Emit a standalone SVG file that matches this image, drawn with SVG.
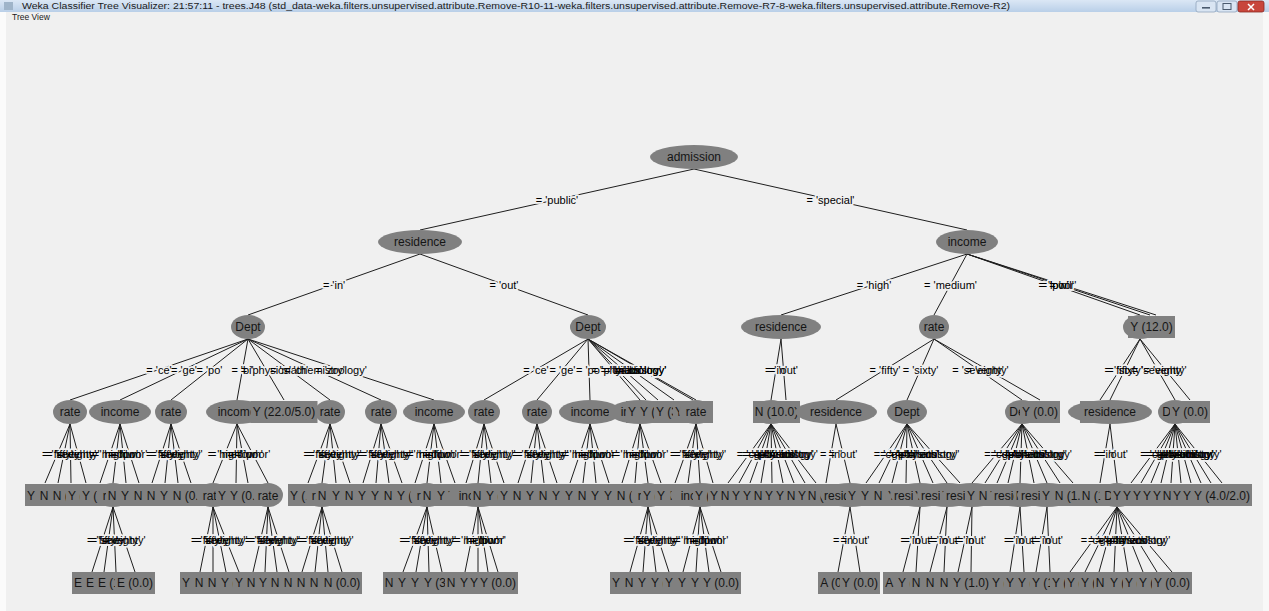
<svg xmlns="http://www.w3.org/2000/svg" xmlns:xlink="http://www.w3.org/1999/xlink" width="1269" height="611" viewBox="0 0 1269 611">
<style>
.nd{fill:#808080}
.tx{font-family:"Liberation Sans",Arial,sans-serif;font-size:12px;fill:#151515;text-anchor:middle}
.lb{font-family:"Liberation Sans",Arial,sans-serif;font-size:11px;text-anchor:middle}
.halo{fill:#f0f0f0;stroke:#f0f0f0;stroke-width:3.5;stroke-linejoin:round}
.ink{fill:#000;stroke:none}
.cn{stroke:#1e1e1e;stroke-width:1;fill:none}
.win{font-family:"Liberation Sans",Arial,sans-serif;fill:#1a1a1a}
</style>
<defs>
<linearGradient id="tb" x1="0" y1="0" x2="0" y2="1"><stop offset="0" stop-color="#dbe7f5"/><stop offset="1" stop-color="#b9cfe8"/></linearGradient>
<g id="lbls">
<text class="lb" x="557" y="203.5">= 'public'</text>
<text class="lb" x="830.5" y="203.5">= 'special'</text>
<text class="lb" x="334" y="288.5">= 'in'</text>
<text class="lb" x="504" y="288.5">= 'out'</text>
<text class="lb" x="874" y="288.5">= 'high'</text>
<text class="lb" x="950.5" y="288.5">= 'medium'</text>
<text class="lb" x="1053.5" y="288.5">= 'low'</text>
<text class="lb" x="1058.5" y="288.5">= 'poor'</text>
<text class="lb" x="1061.5" y="288.5">= 'nil'</text>
<text class="lb" x="159" y="373.5">= 'ce'</text>
<text class="lb" x="184" y="373.5">= 'ge'</text>
<text class="lb" x="209.5" y="373.5">= 'po'</text>
<text class="lb" x="242.5" y="373.5">= 'bi'</text>
<text class="lb" x="266" y="373.5">= 'physics'</text>
<text class="lb" x="289" y="373.5">= 'math'</text>
<text class="lb" x="314.5" y="373.5">= 'chemistry'</text>
<text class="lb" x="341" y="373.5">= 'zoology'</text>
<text class="lb" x="536" y="373.5">= 'ce'</text>
<text class="lb" x="562.5" y="373.5">= 'ge'</text>
<text class="lb" x="589" y="373.5">= 'po'</text>
<text class="lb" x="614" y="373.5">= 'bi'</text>
<text class="lb" x="617" y="373.5">= 'physics'</text>
<text class="lb" x="623" y="373.5">= 'math'</text>
<text class="lb" x="631" y="373.5">= 'chemistry'</text>
<text class="lb" x="640.5" y="373.5">= 'zoology'</text>
<text class="lb" x="642" y="373.5">= 'biology'</text>
<text class="lb" x="776" y="373.5">= 'in'</text>
<text class="lb" x="783.5" y="373.5">= 'out'</text>
<text class="lb" x="885" y="373.5">= 'fifty'</text>
<text class="lb" x="920.5" y="373.5">= 'sixty'</text>
<text class="lb" x="978" y="373.5">= 'seventy'</text>
<text class="lb" x="987" y="373.5">= 'eighty'</text>
<text class="lb" x="1120" y="373.5">= 'fifty'</text>
<text class="lb" x="1125" y="373.5">= 'sixty'</text>
<text class="lb" x="1157.5" y="373.5">= 'seventy'</text>
<text class="lb" x="1165" y="373.5">= 'eighty'</text>
<text class="lb" x="57.5" y="457.5">= 'fifty'</text>
<text class="lb" x="64" y="457.5">= 'sixty'</text>
<text class="lb" x="70.5" y="457.5">= 'seventy'</text>
<text class="lb" x="78" y="457.5">= 'eighty'</text>
<text class="lb" x="110" y="457.5">= 'high'</text>
<text class="lb" x="116.5" y="457.5">= 'medium'</text>
<text class="lb" x="123" y="457.5">= 'low'</text>
<text class="lb" x="129.5" y="457.5">= 'poor'</text>
<text class="lb" x="161.5" y="457.5">= 'fifty'</text>
<text class="lb" x="168" y="457.5">= 'sixty'</text>
<text class="lb" x="174.5" y="457.5">= 'seventy'</text>
<text class="lb" x="181" y="457.5">= 'eighty'</text>
<text class="lb" x="225" y="457.5">= 'high'</text>
<text class="lb" x="236.5" y="457.5">= 'medium'</text>
<text class="lb" x="242.5" y="457.5">= 'low'</text>
<text class="lb" x="252.5" y="457.5">= 'poor'</text>
<text class="lb" x="319" y="457.5">= 'fifty'</text>
<text class="lb" x="326" y="457.5">= 'sixty'</text>
<text class="lb" x="333" y="457.5">= 'seventy'</text>
<text class="lb" x="340" y="457.5">= 'eighty'</text>
<text class="lb" x="372" y="457.5">= 'fifty'</text>
<text class="lb" x="378.5" y="457.5">= 'sixty'</text>
<text class="lb" x="385" y="457.5">= 'seventy'</text>
<text class="lb" x="391.5" y="457.5">= 'eighty'</text>
<text class="lb" x="424.5" y="457.5">= 'high'</text>
<text class="lb" x="430.5" y="457.5">= 'medium'</text>
<text class="lb" x="437.5" y="457.5">= 'low'</text>
<text class="lb" x="444.5" y="457.5">= 'poor'</text>
<text class="lb" x="475" y="457.5">= 'fifty'</text>
<text class="lb" x="481" y="457.5">= 'sixty'</text>
<text class="lb" x="487.5" y="457.5">= 'seventy'</text>
<text class="lb" x="494" y="457.5">= 'eighty'</text>
<text class="lb" x="527.5" y="457.5">= 'fifty'</text>
<text class="lb" x="534" y="457.5">= 'sixty'</text>
<text class="lb" x="540.5" y="457.5">= 'seventy'</text>
<text class="lb" x="547" y="457.5">= 'eighty'</text>
<text class="lb" x="580" y="457.5">= 'high'</text>
<text class="lb" x="586.5" y="457.5">= 'medium'</text>
<text class="lb" x="593" y="457.5">= 'low'</text>
<text class="lb" x="599.5" y="457.5">= 'poor'</text>
<text class="lb" x="631" y="457.5">= 'high'</text>
<text class="lb" x="637.5" y="457.5">= 'medium'</text>
<text class="lb" x="644" y="457.5">= 'low'</text>
<text class="lb" x="650.5" y="457.5">= 'poor'</text>
<text class="lb" x="685.5" y="457.5">= 'fifty'</text>
<text class="lb" x="692" y="457.5">= 'sixty'</text>
<text class="lb" x="698" y="457.5">= 'seventy'</text>
<text class="lb" x="704.5" y="457.5">= 'eighty'</text>
<text class="lb" x="749.5" y="457.5">= 'ce'</text>
<text class="lb" x="755" y="457.5">= 'ge'</text>
<text class="lb" x="760.5" y="457.5">= 'po'</text>
<text class="lb" x="766" y="457.5">= 'bi'</text>
<text class="lb" x="771.5" y="457.5">= 'physics'</text>
<text class="lb" x="777" y="457.5">= 'math'</text>
<text class="lb" x="782.5" y="457.5">= 'chemistry'</text>
<text class="lb" x="788" y="457.5">= 'zoology'</text>
<text class="lb" x="793.5" y="457.5">= 'biology'</text>
<text class="lb" x="831" y="457.5">= 'in'</text>
<text class="lb" x="843" y="457.5">= 'out'</text>
<text class="lb" x="886.5" y="457.5">= 'ce'</text>
<text class="lb" x="893" y="457.5">= 'ge'</text>
<text class="lb" x="899.5" y="457.5">= 'po'</text>
<text class="lb" x="906.5" y="457.5">= 'bi'</text>
<text class="lb" x="913.5" y="457.5">= 'physics'</text>
<text class="lb" x="920" y="457.5">= 'math'</text>
<text class="lb" x="927" y="457.5">= 'chemistry'</text>
<text class="lb" x="933.5" y="457.5">= 'zoology'</text>
<text class="lb" x="997" y="457.5">= 'ce'</text>
<text class="lb" x="1003.5" y="457.5">= 'ge'</text>
<text class="lb" x="1009.5" y="457.5">= 'po'</text>
<text class="lb" x="1015" y="457.5">= 'bi'</text>
<text class="lb" x="1021" y="457.5">= 'physics'</text>
<text class="lb" x="1028" y="457.5">= 'math'</text>
<text class="lb" x="1034.5" y="457.5">= 'chemistry'</text>
<text class="lb" x="1041" y="457.5">= 'zoology'</text>
<text class="lb" x="1047.5" y="457.5">= 'biology'</text>
<text class="lb" x="1105" y="457.5">= 'in'</text>
<text class="lb" x="1113.5" y="457.5">= 'out'</text>
<text class="lb" x="1153" y="457.5">= 'ce'</text>
<text class="lb" x="1158" y="457.5">= 'ge'</text>
<text class="lb" x="1163" y="457.5">= 'po'</text>
<text class="lb" x="1168" y="457.5">= 'bi'</text>
<text class="lb" x="1173" y="457.5">= 'physics'</text>
<text class="lb" x="1178" y="457.5">= 'math'</text>
<text class="lb" x="1183" y="457.5">= 'chemistry'</text>
<text class="lb" x="1188" y="457.5">= 'zoology'</text>
<text class="lb" x="1193" y="457.5">= 'biology'</text>
<text class="lb" x="1198.5" y="457.5">= 'history'</text>
<text class="lb" x="102.5" y="543.5">= 'fifty'</text>
<text class="lb" x="108.5" y="543.5">= 'sixty'</text>
<text class="lb" x="114.5" y="543.5">= 'seventy'</text>
<text class="lb" x="124" y="543.5">= 'eighty'</text>
<text class="lb" x="206.5" y="543.5">= 'fifty'</text>
<text class="lb" x="213" y="543.5">= 'sixty'</text>
<text class="lb" x="219.5" y="543.5">= 'seventy'</text>
<text class="lb" x="226" y="543.5">= 'eighty'</text>
<text class="lb" x="260.5" y="543.5">= 'fifty'</text>
<text class="lb" x="266.5" y="543.5">= 'sixty'</text>
<text class="lb" x="272.5" y="543.5">= 'seventy'</text>
<text class="lb" x="278.5" y="543.5">= 'eighty'</text>
<text class="lb" x="312" y="543.5">= 'fifty'</text>
<text class="lb" x="318.5" y="543.5">= 'sixty'</text>
<text class="lb" x="325" y="543.5">= 'seventy'</text>
<text class="lb" x="332" y="543.5">= 'eighty'</text>
<text class="lb" x="415" y="543.5">= 'fifty'</text>
<text class="lb" x="421.5" y="543.5">= 'sixty'</text>
<text class="lb" x="428" y="543.5">= 'seventy'</text>
<text class="lb" x="434.5" y="543.5">= 'eighty'</text>
<text class="lb" x="471.5" y="543.5">= 'high'</text>
<text class="lb" x="478" y="543.5">= 'medium'</text>
<text class="lb" x="483" y="543.5">= 'low'</text>
<text class="lb" x="488" y="543.5">= 'poor'</text>
<text class="lb" x="639" y="543.5">= 'fifty'</text>
<text class="lb" x="645.5" y="543.5">= 'sixty'</text>
<text class="lb" x="652" y="543.5">= 'seventy'</text>
<text class="lb" x="658.5" y="543.5">= 'eighty'</text>
<text class="lb" x="691.5" y="543.5">= 'high'</text>
<text class="lb" x="698" y="543.5">= 'medium'</text>
<text class="lb" x="704.5" y="543.5">= 'low'</text>
<text class="lb" x="710.5" y="543.5">= 'poor'</text>
<text class="lb" x="844" y="543.5">= 'in'</text>
<text class="lb" x="855" y="543.5">= 'out'</text>
<text class="lb" x="911.5" y="543.5">= 'in'</text>
<text class="lb" x="918" y="543.5">= 'out'</text>
<text class="lb" x="938.5" y="543.5">= 'in'</text>
<text class="lb" x="945.5" y="543.5">= 'out'</text>
<text class="lb" x="965" y="543.5">= 'in'</text>
<text class="lb" x="971.5" y="543.5">= 'out'</text>
<text class="lb" x="1015" y="543.5">= 'in'</text>
<text class="lb" x="1022" y="543.5">= 'out'</text>
<text class="lb" x="1041.5" y="543.5">= 'in'</text>
<text class="lb" x="1048.5" y="543.5">= 'out'</text>
<text class="lb" x="1093.5" y="543.5">= 'ce'</text>
<text class="lb" x="1101" y="543.5">= 'ge'</text>
<text class="lb" x="1108" y="543.5">= 'po'</text>
<text class="lb" x="1115.5" y="543.5">= 'bi'</text>
<text class="lb" x="1122.5" y="543.5">= 'physics'</text>
<text class="lb" x="1130" y="543.5">= 'math'</text>
<text class="lb" x="1137" y="543.5">= 'chemistry'</text>
<text class="lb" x="1144.5" y="543.5">= 'zoology'</text>
</g>
</defs>

<rect width="1269" height="611" fill="#f0f0f0"/>
<rect x="0" y="12" width="6" height="599" fill="#fbfbfb"/>
<rect x="1263" y="12" width="6" height="599" fill="#f8f8f8"/>
<g id="window">
<rect x="0" y="0" width="1269" height="12" fill="url(#tb)"/>
<rect x="4" y="2" width="9" height="8" fill="#9fb4c9"/>
<text class="win" x="22" y="9" font-size="8.5" textLength="988" lengthAdjust="spacingAndGlyphs">Weka Classifier Tree Visualizer: 21:57:11 - trees.J48 (std_data-weka.filters.unsupervised.attribute.Remove-R10-11-weka.filters.unsupervised.attribute.Remove-R7-8-weka.filters.unsupervised.attribute.Remove-R2)</text>
<rect x="1196" y="1" width="20" height="11" rx="2" fill="#d9e5f3" stroke="#8fa3bb" stroke-width="0.8"/>
<rect x="1202" y="7" width="8" height="1.6" fill="#4a5a6e"/>
<rect x="1217" y="1" width="20" height="11" rx="2" fill="#d9e5f3" stroke="#8fa3bb" stroke-width="0.8"/>
<rect x="1223" y="3.5" width="8" height="6" fill="none" stroke="#4a5a6e" stroke-width="1"/>
<rect x="1238" y="1" width="26" height="11" rx="2" fill="#c8463c" stroke="#8a2a22" stroke-width="0.8"/>
<path d="M1248 4L1254 10M1254 4L1248 10" stroke="#fff" stroke-width="1.5"/>
<text class="win" x="12" y="19.5" font-size="8.5">Tree View</text>
</g>

<g id="connectors" class="cn">
<path d="M694 169L420 230M694 169L967 230M420 254L248 315M420 254L588 315M967 254L781 315M967 254L934 315M967 254L1140 315M967 254L1150 315M967 254L1156 315"/>
<path d="M248 339L70 400M248 339L120 400M248 339L171 400M248 339L237 400M248 339L284 400M248 339L330 400M248 339L381 400M248 339L434 400M588 339L484 400M588 339L537 400M588 339L590 400M588 339L640 400M588 339L646 400M588 339L658 400M588 339L674 400M588 339L693 400M588 339L696 400M781 339L771 400M781 339L786 400M934 339L836 400M934 339L907 400M934 339L1022 400M934 339L1040 400M1140 339L1100 400M1140 339L1110 400M1140 339L1175 400M1140 339L1190 400"/>
<path d="M70 424L45 483M70 424L58 483M70 424L71 483M70 424L86 483M120 424L100 483M120 424L113 483M120 424L126 483M120 424L139 483M171 424L152 483M171 424L165 483M171 424L178 483M171 424L191 483M237 424L213 483M237 424L236 483M237 424L248 483M237 424L268 483M330 424L308 483M330 424L322 483M330 424L336 483M330 424L350 483M381 424L363 483M381 424L376 483M381 424L389 483M381 424L402 483M434 424L415 483M434 424L427 483M434 424L441 483M434 424L455 483M484 424L466 483M484 424L478 483M484 424L491 483M484 424L504 483M537 424L518 483M537 424L531 483M537 424L544 483M537 424L557 483M590 424L570 483M590 424L583 483M590 424L596 483M590 424L609 483M640 424L622 483M640 424L635 483M640 424L648 483M640 424L661 483M696 424L675 483M696 424L688 483M696 424L700 483M696 424L713 483"/>
<path d="M771 424L728 483M771 424L739 483M771 424L750 483M771 424L761 483M771 424L772 483M771 424L783 483M771 424L794 483M771 424L805 483M771 424L816 483M836 424L826 483M836 424L850 483M907 424L866 483M907 424L879 483M907 424L892 483M907 424L906 483M907 424L920 483M907 424L933 483M907 424L947 483M907 424L960 483M1022 424L972 483M1022 424L985 483M1022 424L997 483M1022 424L1008 483M1022 424L1020 483M1022 424L1034 483M1022 424L1047 483M1022 424L1060 483M1022 424L1073 483M1110 424L1100 483M1110 424L1117 483M1175 424L1131 483M1175 424L1141 483M1175 424L1151 483M1175 424L1161 483M1175 424L1171 483M1175 424L1181 483M1175 424L1191 483M1175 424L1201 483M1175 424L1211 483M1175 424L1222 483"/>
<path d="M113 507L92 572M113 507L104 572M113 507L116 572M113 507L135 572M213 507L200 572M213 507L213 572M213 507L226 572M213 507L239 572M268 507L253 572M268 507L265 572M268 507L277 572M268 507L289 572M322 507L302 572M322 507L315 572M322 507L328 572M322 507L342 572M427 507L403 572M427 507L416 572M427 507L429 572M427 507L442 572M478 507L465 572M478 507L478 572M478 507L488 572M478 507L498 572M648 507L630 572M648 507L643 572M648 507L656 572M648 507L669 572M700 507L683 572M700 507L696 572M700 507L709 572M700 507L721 572M850 507L838 572M850 507L860 572M920 507L903 572M920 507L916 572M947 507L930 572M947 507L944 572M972 507L958 572M972 507L971 572M1020 507L1010 572M1020 507L1024 572M1047 507L1036 572M1047 507L1050 572M1117 507L1070 572M1117 507L1085 572M1117 507L1099 572M1117 507L1114 572M1117 507L1128 572M1117 507L1143 572M1117 507L1157 572M1117 507L1172 572"/>
</g>

<g id="labels">
<use xlink:href="#lbls" href="#lbls" class="halo"/>
<use xlink:href="#lbls" href="#lbls" class="ink"/>
</g>

<g id="nodes">
<g id="admission"><ellipse class="nd" cx="694" cy="157" rx="44" ry="12"/><text class="tx" x="694" y="161">admission</text></g>
<g id="residence1"><ellipse class="nd" cx="420" cy="242" rx="42" ry="12"/><text class="tx" x="420" y="246">residence</text></g>
<g id="income1"><ellipse class="nd" cx="967" cy="242" rx="31" ry="12"/><text class="tx" x="967" y="246">income</text></g>

<g id="deptL"><ellipse class="nd" cx="248" cy="327" rx="17" ry="12"/><text class="tx" x="248" y="331">Dept</text></g>
<g id="deptR"><ellipse class="nd" cx="588" cy="327" rx="18" ry="12"/><text class="tx" x="588" y="331">Dept</text></g>
<g id="residence2"><ellipse class="nd" cx="781" cy="327" rx="40" ry="12"/><text class="tx" x="781" y="331">residence</text></g>
<g id="rate2"><ellipse class="nd" cx="934" cy="327" rx="15" ry="12"/><text class="tx" x="934" y="331">rate</text></g>
<g id="rate2h"><ellipse class="nd" cx="1140" cy="327" rx="17" ry="12"/><text class="tx" x="1140" y="331">rate</text></g>
<g id="leaf2h"><rect class="nd" x="1135" y="316" width="40" height="22"/><text class="tx" x="1155" y="331">N (0.0)</text></g>
<g id="leaf2"><rect class="nd" x="1128" y="316" width="47" height="22"/><text class="tx" x="1151.5" y="331">Y (12.0)</text></g>

<g id="n3_70"><ellipse class="nd" cx="70" cy="412" rx="17" ry="12"/><text class="tx" x="70" y="416">rate</text></g>
<g id="n3_120"><ellipse class="nd" cx="120" cy="412" rx="31" ry="12"/><text class="tx" x="120" y="416">income</text></g>
<g id="n3_171"><ellipse class="nd" cx="171" cy="412" rx="16" ry="12"/><text class="tx" x="171" y="416">rate</text></g>
<g id="n3_237"><ellipse class="nd" cx="237" cy="412" rx="31" ry="12"/><text class="tx" x="237" y="416">income</text></g>
<g id="n3_284"><rect class="nd" x="250.5" y="401" width="67" height="22"/><text class="tx" x="284" y="416">Y (22.0/5.0)</text></g>
<g id="n3_330"><ellipse class="nd" cx="330" cy="412" rx="15" ry="12"/><text class="tx" x="330" y="416">rate</text></g>
<g id="n3_381"><ellipse class="nd" cx="381" cy="412" rx="16" ry="12"/><text class="tx" x="381" y="416">rate</text></g>
<g id="n3_434"><ellipse class="nd" cx="434" cy="412" rx="31" ry="12"/><text class="tx" x="434" y="416">income</text></g>
<g id="n3_484"><ellipse class="nd" cx="484" cy="412" rx="16" ry="12"/><text class="tx" x="484" y="416">rate</text></g>
<g id="n3_537"><ellipse class="nd" cx="537" cy="412" rx="15" ry="12"/><text class="tx" x="537" y="416">rate</text></g>
<g id="n3_590"><ellipse class="nd" cx="590" cy="412" rx="31" ry="12"/><text class="tx" x="590" y="416">income</text></g>
<g id="n3_640"><ellipse class="nd" cx="640" cy="412" rx="31" ry="12"/><text class="tx" x="640" y="416">income</text></g>
<g id="n3_646"><rect class="nd" x="626" y="401" width="40" height="22"/><text class="tx" x="646" y="416">Y (2.0)</text></g>
<g id="n3_658"><rect class="nd" x="638" y="401" width="40" height="22"/><text class="tx" x="658" y="416">Y (1.0)</text></g>
<g id="n3_674"><rect class="nd" x="654" y="401" width="40" height="22"/><text class="tx" x="674" y="416">Y (3.0)</text></g>
<g id="n3_693"><rect class="nd" x="673" y="401" width="40" height="22"/><text class="tx" x="693" y="416">Y (0.0)</text></g>
<g id="n3_696"><ellipse class="nd" cx="696" cy="412" rx="17" ry="12"/><text class="tx" x="696" y="416">rate</text></g>
<g id="n3_771"><ellipse class="nd" cx="771" cy="412" rx="18" ry="12"/><text class="tx" x="771" y="416">Dept</text></g>
<g id="n3_776"><rect class="nd" x="753" y="401" width="47" height="22"/><text class="tx" x="776.5" y="416">N (10.0)</text></g>
<g id="n3_836"><ellipse class="nd" cx="836" cy="412" rx="41" ry="12"/><text class="tx" x="836" y="416">residence</text></g>
<g id="n3_907"><ellipse class="nd" cx="907" cy="412" rx="20" ry="12"/><text class="tx" x="907" y="416">Dept</text></g>
<g id="n3_1022"><ellipse class="nd" cx="1022" cy="412" rx="17" ry="12"/><text class="tx" x="1022" y="416">Dept</text></g>
<g id="n3_1040"><rect class="nd" x="1020" y="401" width="40" height="22"/><text class="tx" x="1040" y="416">Y (0.0)</text></g>
<g id="n3_1100"><rect class="nd" x="1080" y="401" width="40" height="22"/><text class="tx" x="1100" y="416">N (1.0)</text></g>
<g id="n3_1110"><ellipse class="nd" cx="1110" cy="412" rx="42" ry="12"/><text class="tx" x="1110" y="416">residence</text></g>
<g id="n3_1175"><ellipse class="nd" cx="1175" cy="412" rx="17" ry="12"/><text class="tx" x="1175" y="416">Dept</text></g>
<g id="n3_1190"><rect class="nd" x="1170" y="401" width="40" height="22"/><text class="tx" x="1190" y="416">Y (0.0)</text></g>

<g id="n4_45"><rect class="nd" x="25" y="484" width="40" height="22"/><text class="tx" x="45" y="499.5">Y (1.0)</text></g>
<g id="n4_58"><rect class="nd" x="38" y="484" width="40" height="22"/><text class="tx" x="58" y="499.5">N (2.0)</text></g>
<g id="n4_71"><rect class="nd" x="51" y="484" width="40" height="22"/><text class="tx" x="71" y="499.5">N (0.0)</text></g>
<g id="n4_86"><rect class="nd" x="66" y="484" width="40" height="22"/><text class="tx" x="86" y="499.5">Y (3.0)</text></g>
<g id="n4_100"><rect class="nd" x="80" y="484" width="40" height="22"/><text class="tx" x="100" y="499.5">Y (1.0)</text></g>
<g id="n4_113"><ellipse class="nd" cx="113" cy="495" rx="17" ry="12"/><text class="tx" x="113" y="499.5">rate</text></g>
<g id="n4_126"><rect class="nd" x="106" y="484" width="40" height="22"/><text class="tx" x="126" y="499.5">N (1.0)</text></g>
<g id="n4_139"><rect class="nd" x="119" y="484" width="40" height="22"/><text class="tx" x="139" y="499.5">Y (2.0)</text></g>
<g id="n4_152"><rect class="nd" x="132" y="484" width="40" height="22"/><text class="tx" x="152" y="499.5">N (4.0)</text></g>
<g id="n4_165"><rect class="nd" x="145" y="484" width="40" height="22"/><text class="tx" x="165" y="499.5">N (1.0)</text></g>
<g id="n4_178"><rect class="nd" x="158" y="484" width="40" height="22"/><text class="tx" x="178" y="499.5">Y (2.0)</text></g>
<g id="n4_191"><rect class="nd" x="171" y="484" width="40" height="22"/><text class="tx" x="191" y="499.5">N (0.0)</text></g>
<g id="n4_213"><ellipse class="nd" cx="213" cy="495" rx="17" ry="12"/><text class="tx" x="213" y="499.5">rate</text></g>
<g id="n4_236"><rect class="nd" x="216" y="484" width="40" height="22"/><text class="tx" x="236" y="499.5">Y (3.0)</text></g>
<g id="n4_248"><rect class="nd" x="228" y="484" width="40" height="22"/><text class="tx" x="248" y="499.5">Y (0.0)</text></g>
<g id="n4_268"><ellipse class="nd" cx="268" cy="495" rx="15" ry="12"/><text class="tx" x="268" y="499.5">rate</text></g>
<g id="n4_308"><rect class="nd" x="288" y="484" width="40" height="22"/><text class="tx" x="308" y="499.5">Y (1.0)</text></g>
<g id="n4_322"><ellipse class="nd" cx="322" cy="495" rx="17" ry="12"/><text class="tx" x="322" y="499.5">rate</text></g>
<g id="n4_336"><rect class="nd" x="316" y="484" width="40" height="22"/><text class="tx" x="336" y="499.5">N (2.0)</text></g>
<g id="n4_350"><rect class="nd" x="330" y="484" width="40" height="22"/><text class="tx" x="350" y="499.5">Y (1.0)</text></g>
<g id="n4_363"><rect class="nd" x="343" y="484" width="40" height="22"/><text class="tx" x="363" y="499.5">N (3.0)</text></g>
<g id="n4_376"><rect class="nd" x="356" y="484" width="40" height="22"/><text class="tx" x="376" y="499.5">Y (0.0)</text></g>
<g id="n4_389"><rect class="nd" x="369" y="484" width="40" height="22"/><text class="tx" x="389" y="499.5">Y (2.0)</text></g>
<g id="n4_402"><rect class="nd" x="382" y="484" width="40" height="22"/><text class="tx" x="402" y="499.5">N (1.0)</text></g>
<g id="n4_415"><rect class="nd" x="395" y="484" width="40" height="22"/><text class="tx" x="415" y="499.5">Y (1.0)</text></g>
<g id="n4_427"><ellipse class="nd" cx="427" cy="495" rx="17" ry="12"/><text class="tx" x="427" y="499.5">rate</text></g>
<g id="n4_441"><rect class="nd" x="421" y="484" width="40" height="22"/><text class="tx" x="441" y="499.5">N (2.0)</text></g>
<g id="n4_455"><rect class="nd" x="435" y="484" width="40" height="22"/><text class="tx" x="455" y="499.5">Y (0.0)</text></g>
<g id="n4_466"><rect class="nd" x="446" y="484" width="40" height="22"/><text class="tx" x="466" y="499.5">Y (2.0)</text></g>
<g id="n4_478"><ellipse class="nd" cx="478" cy="495" rx="30" ry="12"/><text class="tx" x="478" y="499.5">income</text></g>
<g id="n4_491"><rect class="nd" x="471" y="484" width="40" height="22"/><text class="tx" x="491" y="499.5">N (1.0)</text></g>
<g id="n4_504"><rect class="nd" x="484" y="484" width="40" height="22"/><text class="tx" x="504" y="499.5">Y (0.0)</text></g>
<g id="n4_518"><rect class="nd" x="498" y="484" width="40" height="22"/><text class="tx" x="518" y="499.5">Y (1.0)</text></g>
<g id="n4_531"><rect class="nd" x="511" y="484" width="40" height="22"/><text class="tx" x="531" y="499.5">N (3.0)</text></g>
<g id="n4_544"><rect class="nd" x="524" y="484" width="40" height="22"/><text class="tx" x="544" y="499.5">Y (2.0)</text></g>
<g id="n4_557"><rect class="nd" x="537" y="484" width="40" height="22"/><text class="tx" x="557" y="499.5">N (0.0)</text></g>
<g id="n4_570"><rect class="nd" x="550" y="484" width="40" height="22"/><text class="tx" x="570" y="499.5">Y (1.0)</text></g>
<g id="n4_583"><rect class="nd" x="563" y="484" width="40" height="22"/><text class="tx" x="583" y="499.5">Y (4.0)</text></g>
<g id="n4_596"><rect class="nd" x="576" y="484" width="40" height="22"/><text class="tx" x="596" y="499.5">N (2.0)</text></g>
<g id="n4_609"><rect class="nd" x="589" y="484" width="40" height="22"/><text class="tx" x="609" y="499.5">Y (0.0)</text></g>
<g id="n4_622"><rect class="nd" x="602" y="484" width="40" height="22"/><text class="tx" x="622" y="499.5">Y (1.0)</text></g>
<g id="n4_635"><rect class="nd" x="615" y="484" width="40" height="22"/><text class="tx" x="635" y="499.5">N (2.0)</text></g>
<g id="n4_648"><ellipse class="nd" cx="648" cy="495" rx="17" ry="12"/><text class="tx" x="648" y="499.5">rate</text></g>
<g id="n4_661"><rect class="nd" x="641" y="484" width="40" height="22"/><text class="tx" x="661" y="499.5">Y (0.0)</text></g>
<g id="n4_675"><rect class="nd" x="655" y="484" width="40" height="22"/><text class="tx" x="675" y="499.5">Y (3.0)</text></g>
<g id="n4_688"><rect class="nd" x="668" y="484" width="40" height="22"/><text class="tx" x="688" y="499.5">N (1.0)</text></g>
<g id="n4_700"><ellipse class="nd" cx="700" cy="495" rx="30" ry="12"/><text class="tx" x="700" y="499.5">income</text></g>
<g id="n4_713"><rect class="nd" x="693" y="484" width="40" height="22"/><text class="tx" x="713" y="499.5">Y (0.0)</text></g>
<g id="n4_728"><rect class="nd" x="708" y="484" width="40" height="22"/><text class="tx" x="728" y="499.5">Y (2.0)</text></g>
<g id="n4_739"><rect class="nd" x="719" y="484" width="40" height="22"/><text class="tx" x="739" y="499.5">N (1.0)</text></g>
<g id="n4_750"><rect class="nd" x="730" y="484" width="40" height="22"/><text class="tx" x="750" y="499.5">Y (0.0)</text></g>
<g id="n4_761"><rect class="nd" x="741" y="484" width="40" height="22"/><text class="tx" x="761" y="499.5">Y (3.0)</text></g>
<g id="n4_772"><rect class="nd" x="752" y="484" width="40" height="22"/><text class="tx" x="772" y="499.5">N (1.0)</text></g>
<g id="n4_783"><rect class="nd" x="763" y="484" width="40" height="22"/><text class="tx" x="783" y="499.5">Y (0.0)</text></g>
<g id="n4_794"><rect class="nd" x="774" y="484" width="40" height="22"/><text class="tx" x="794" y="499.5">Y (2.0)</text></g>
<g id="n4_805"><rect class="nd" x="785" y="484" width="40" height="22"/><text class="tx" x="805" y="499.5">N (1.0)</text></g>
<g id="n4_816"><rect class="nd" x="796" y="484" width="40" height="22"/><text class="tx" x="816" y="499.5">Y (0.0)</text></g>
<g id="n4_826"><rect class="nd" x="806" y="484" width="40" height="22"/><text class="tx" x="826" y="499.5">N (1.0)</text></g>
<g id="n4_850"><ellipse class="nd" cx="850" cy="495" rx="30" ry="12"/><text class="tx" x="850" y="499.5">residence</text></g>
<g id="n4_866"><rect class="nd" x="846" y="484" width="40" height="22"/><text class="tx" x="866" y="499.5">Y (2.0)</text></g>
<g id="n4_879"><rect class="nd" x="859" y="484" width="40" height="22"/><text class="tx" x="879" y="499.5">Y (1.0)</text></g>
<g id="n4_892"><rect class="nd" x="872" y="484" width="40" height="22"/><text class="tx" x="892" y="499.5">N (1.0)</text></g>
<g id="n4_906"><rect class="nd" x="886" y="484" width="40" height="22"/><text class="tx" x="906" y="499.5">Y (0.0)</text></g>
<g id="n4_920"><ellipse class="nd" cx="920" cy="495" rx="30" ry="12"/><text class="tx" x="920" y="499.5">residence</text></g>
<g id="n4_933"><rect class="nd" x="913" y="484" width="40" height="22"/><text class="tx" x="933" y="499.5">Y (1.0)</text></g>
<g id="n4_947"><ellipse class="nd" cx="947" cy="495" rx="30" ry="12"/><text class="tx" x="947" y="499.5">residence</text></g>
<g id="n4_960"><rect class="nd" x="940" y="484" width="40" height="22"/><text class="tx" x="960" y="499.5">Y (2.0)</text></g>
<g id="n4_972"><ellipse class="nd" cx="972" cy="495" rx="30" ry="12"/><text class="tx" x="972" y="499.5">residence</text></g>
<g id="n4_985"><rect class="nd" x="965" y="484" width="40" height="22"/><text class="tx" x="985" y="499.5">Y (0.0)</text></g>
<g id="n4_997"><rect class="nd" x="977" y="484" width="40" height="22"/><text class="tx" x="997" y="499.5">N (1.0)</text></g>
<g id="n4_1008"><rect class="nd" x="988" y="484" width="40" height="22"/><text class="tx" x="1008" y="499.5">Y (3.0)</text></g>
<g id="n4_1020"><ellipse class="nd" cx="1020" cy="495" rx="30" ry="12"/><text class="tx" x="1020" y="499.5">residence</text></g>
<g id="n4_1034"><rect class="nd" x="1014" y="484" width="40" height="22"/><text class="tx" x="1034" y="499.5">N (2.0)</text></g>
<g id="n4_1047"><ellipse class="nd" cx="1047" cy="495" rx="30" ry="12"/><text class="tx" x="1047" y="499.5">residence</text></g>
<g id="n4_1060"><rect class="nd" x="1040" y="484" width="40" height="22"/><text class="tx" x="1060" y="499.5">Y (0.0)</text></g>
<g id="n4_1073"><rect class="nd" x="1053" y="484" width="40" height="22"/><text class="tx" x="1073" y="499.5">N (1.0)</text></g>
<g id="n4_1100"><rect class="nd" x="1080" y="484" width="40" height="22"/><text class="tx" x="1100" y="499.5">N (1.0)</text></g>
<g id="n4_1117"><ellipse class="nd" cx="1117" cy="495" rx="18" ry="12"/><text class="tx" x="1117" y="499.5">Dept</text></g>
<g id="n4_1131"><rect class="nd" x="1111" y="484" width="40" height="22"/><text class="tx" x="1131" y="499.5">Y (0.0)</text></g>
<g id="n4_1141"><rect class="nd" x="1121" y="484" width="40" height="22"/><text class="tx" x="1141" y="499.5">Y (1.0)</text></g>
<g id="n4_1151"><rect class="nd" x="1131" y="484" width="40" height="22"/><text class="tx" x="1151" y="499.5">Y (2.0)</text></g>
<g id="n4_1161"><rect class="nd" x="1141" y="484" width="40" height="22"/><text class="tx" x="1161" y="499.5">Y (0.0)</text></g>
<g id="n4_1171"><rect class="nd" x="1151" y="484" width="40" height="22"/><text class="tx" x="1171" y="499.5">Y (2.0)</text></g>
<g id="n4_1181"><rect class="nd" x="1161" y="484" width="40" height="22"/><text class="tx" x="1181" y="499.5">N (1.0)</text></g>
<g id="n4_1191"><rect class="nd" x="1171" y="484" width="40" height="22"/><text class="tx" x="1191" y="499.5">Y (0.0)</text></g>
<g id="n4_1201"><rect class="nd" x="1181" y="484" width="40" height="22"/><text class="tx" x="1201" y="499.5">Y (1.0)</text></g>
<g id="n4_1211"><rect class="nd" x="1191" y="484" width="40" height="22"/><text class="tx" x="1211" y="499.5">Y (2.0)</text></g>
<g id="n4_1222"><rect class="nd" x="1192" y="484" width="60" height="22"/><text class="tx" x="1222" y="499.5">Y (4.0/2.0)</text></g>

<g id="n5_92"><rect class="nd" x="72" y="572" width="40" height="22"/><text class="tx" x="92" y="587">E (1.0)</text></g>
<g id="n5_104"><rect class="nd" x="84" y="572" width="40" height="22"/><text class="tx" x="104" y="587">E (2.0)</text></g>
<g id="n5_116"><rect class="nd" x="96" y="572" width="40" height="22"/><text class="tx" x="116" y="587">E (1.0)</text></g>
<g id="n5_135"><rect class="nd" x="115" y="572" width="40" height="22"/><text class="tx" x="135" y="587">E (0.0)</text></g>
<g id="n5_200"><rect class="nd" x="180" y="572" width="40" height="22"/><text class="tx" x="200" y="587">Y (1.0)</text></g>
<g id="n5_213"><rect class="nd" x="193" y="572" width="40" height="22"/><text class="tx" x="213" y="587">N (2.0)</text></g>
<g id="n5_226"><rect class="nd" x="206" y="572" width="40" height="22"/><text class="tx" x="226" y="587">N (1.0)</text></g>
<g id="n5_239"><rect class="nd" x="219" y="572" width="40" height="22"/><text class="tx" x="239" y="587">Y (1.0)</text></g>
<g id="n5_253"><rect class="nd" x="233" y="572" width="40" height="22"/><text class="tx" x="253" y="587">Y (2.0)</text></g>
<g id="n5_265"><rect class="nd" x="245" y="572" width="40" height="22"/><text class="tx" x="265" y="587">N (1.0)</text></g>
<g id="n5_277"><rect class="nd" x="257" y="572" width="40" height="22"/><text class="tx" x="277" y="587">Y (1.0)</text></g>
<g id="n5_289"><rect class="nd" x="269" y="572" width="40" height="22"/><text class="tx" x="289" y="587">N (0.0)</text></g>
<g id="n5_302"><rect class="nd" x="282" y="572" width="40" height="22"/><text class="tx" x="302" y="587">N (2.0)</text></g>
<g id="n5_315"><rect class="nd" x="295" y="572" width="40" height="22"/><text class="tx" x="315" y="587">N (1.0)</text></g>
<g id="n5_328"><rect class="nd" x="308" y="572" width="40" height="22"/><text class="tx" x="328" y="587">N (3.0)</text></g>
<g id="n5_342"><rect class="nd" x="322" y="572" width="40" height="22"/><text class="tx" x="342" y="587">N (0.0)</text></g>
<g id="n5_403"><rect class="nd" x="383" y="572" width="40" height="22"/><text class="tx" x="403" y="587">N (1.0)</text></g>
<g id="n5_416"><rect class="nd" x="396" y="572" width="40" height="22"/><text class="tx" x="416" y="587">Y (2.0)</text></g>
<g id="n5_429"><rect class="nd" x="409" y="572" width="40" height="22"/><text class="tx" x="429" y="587">Y (1.0)</text></g>
<g id="n5_442"><rect class="nd" x="422" y="572" width="40" height="22"/><text class="tx" x="442" y="587">Y (3.0)</text></g>
<g id="n5_465"><rect class="nd" x="445" y="572" width="40" height="22"/><text class="tx" x="465" y="587">N (1.0)</text></g>
<g id="n5_478"><rect class="nd" x="458" y="572" width="40" height="22"/><text class="tx" x="478" y="587">Y (2.0)</text></g>
<g id="n5_488"><rect class="nd" x="468" y="572" width="40" height="22"/><text class="tx" x="488" y="587">Y (1.0)</text></g>
<g id="n5_498"><rect class="nd" x="478" y="572" width="40" height="22"/><text class="tx" x="498" y="587">Y (0.0)</text></g>
<g id="n5_630"><rect class="nd" x="610" y="572" width="40" height="22"/><text class="tx" x="630" y="587">Y (1.0)</text></g>
<g id="n5_643"><rect class="nd" x="623" y="572" width="40" height="22"/><text class="tx" x="643" y="587">N (2.0)</text></g>
<g id="n5_656"><rect class="nd" x="636" y="572" width="40" height="22"/><text class="tx" x="656" y="587">Y (1.0)</text></g>
<g id="n5_669"><rect class="nd" x="649" y="572" width="40" height="22"/><text class="tx" x="669" y="587">Y (2.0)</text></g>
<g id="n5_683"><rect class="nd" x="663" y="572" width="40" height="22"/><text class="tx" x="683" y="587">Y (1.0)</text></g>
<g id="n5_696"><rect class="nd" x="676" y="572" width="40" height="22"/><text class="tx" x="696" y="587">Y (3.0)</text></g>
<g id="n5_709"><rect class="nd" x="689" y="572" width="40" height="22"/><text class="tx" x="709" y="587">Y (1.0)</text></g>
<g id="n5_721"><rect class="nd" x="701" y="572" width="40" height="22"/><text class="tx" x="721" y="587">Y (0.0)</text></g>
<g id="n5_838"><rect class="nd" x="818" y="572" width="40" height="22"/><text class="tx" x="838" y="587">A (0.0)</text></g>
<g id="n5_860"><rect class="nd" x="840" y="572" width="40" height="22"/><text class="tx" x="860" y="587">Y (0.0)</text></g>
<g id="n5_903"><rect class="nd" x="883" y="572" width="40" height="22"/><text class="tx" x="903" y="587">A (1.0)</text></g>
<g id="n5_916"><rect class="nd" x="896" y="572" width="40" height="22"/><text class="tx" x="916" y="587">Y (2.0)</text></g>
<g id="n5_930"><rect class="nd" x="910" y="572" width="40" height="22"/><text class="tx" x="930" y="587">N (1.0)</text></g>
<g id="n5_944"><rect class="nd" x="924" y="572" width="40" height="22"/><text class="tx" x="944" y="587">N (2.0)</text></g>
<g id="n5_958"><rect class="nd" x="938" y="572" width="40" height="22"/><text class="tx" x="958" y="587">N (1.0)</text></g>
<g id="n5_971"><rect class="nd" x="951" y="572" width="40" height="22"/><text class="tx" x="971" y="587">Y (1.0)</text></g>
<g id="n5_1010"><rect class="nd" x="990" y="572" width="40" height="22"/><text class="tx" x="1010" y="587">Y (1.0)</text></g>
<g id="n5_1024"><rect class="nd" x="1004" y="572" width="40" height="22"/><text class="tx" x="1024" y="587">Y (2.0)</text></g>
<g id="n5_1036"><rect class="nd" x="1016" y="572" width="40" height="22"/><text class="tx" x="1036" y="587">Y (1.0)</text></g>
<g id="n5_1050"><rect class="nd" x="1030" y="572" width="40" height="22"/><text class="tx" x="1050" y="587">Y (1.0)</text></g>
<g id="n5_1070"><rect class="nd" x="1050" y="572" width="40" height="22"/><text class="tx" x="1070" y="587">Y (1.0)</text></g>
<g id="n5_1085"><rect class="nd" x="1065" y="572" width="40" height="22"/><text class="tx" x="1085" y="587">Y (2.0)</text></g>
<g id="n5_1099"><rect class="nd" x="1079" y="572" width="40" height="22"/><text class="tx" x="1099" y="587">Y (1.0)</text></g>
<g id="n5_1114"><rect class="nd" x="1094" y="572" width="40" height="22"/><text class="tx" x="1114" y="587">N (0.0)</text></g>
<g id="n5_1128"><rect class="nd" x="1108" y="572" width="40" height="22"/><text class="tx" x="1128" y="587">Y (0.0)</text></g>
<g id="n5_1143"><rect class="nd" x="1123" y="572" width="40" height="22"/><text class="tx" x="1143" y="587">Y (1.0)</text></g>
<g id="n5_1157"><rect class="nd" x="1137" y="572" width="40" height="22"/><text class="tx" x="1157" y="587">Y (0.0)</text></g>
<g id="n5_1172"><rect class="nd" x="1152" y="572" width="40" height="22"/><text class="tx" x="1172" y="587">Y (0.0)</text></g>
</g>
</svg>
